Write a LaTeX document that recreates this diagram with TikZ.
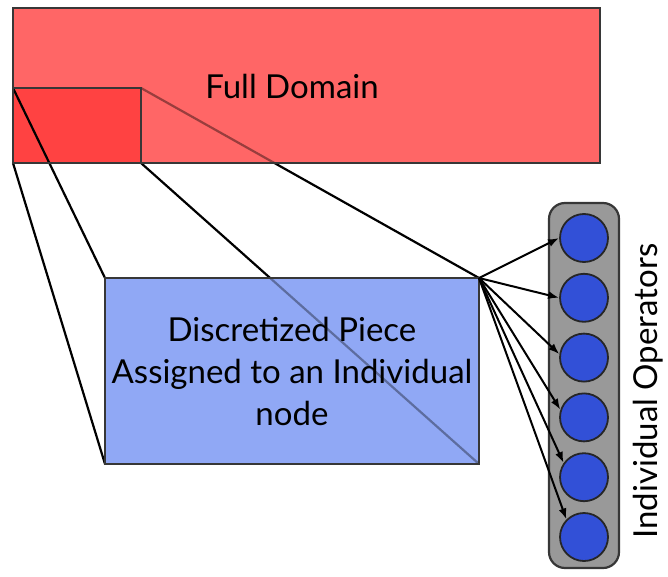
\documentclass[tikz,border=0pt]{standalone}
\usepackage{fontspec}
\setmainfont{Lato}
\usetikzlibrary{arrows.meta}
\definecolor{domred}{RGB}{255,102,102}
\definecolor{piecered}{RGB}{255,66,66}
\definecolor{pieceblue}{RGB}{144,168,245}
\definecolor{opgray}{RGB}{153,153,153}
\definecolor{opblue}{RGB}{50,80,215}
\definecolor{edge}{RGB}{55,55,55}
\begin{document}
\begin{tikzpicture}[x=1pt,y=-1pt,
  box/.style={inner sep=0pt,outer sep=0pt,anchor=north west},
  border/.style={draw=edge,line width=2.2pt},
  link/.style={line width=2.2pt,black},
  op/.style={circle,draw=black!85,line width=1.8pt,fill=opblue,minimum size=48pt,inner sep=0pt},
  feed/.style={line width=2pt,-{Latex[length=11pt,width=8pt]}},
  txt/.style={font=\fontsize{33}{42}\selectfont,align=center}]
\useasboundingbox (0,0) rectangle (668,577);

% domain, the piece cut from it, and the enlarged piece
\node[box,fill=domred,minimum width=587pt,minimum height=155pt] (dom) at (13,8) {};
\node[box,fill=piecered,minimum width=128pt,minimum height=75pt] (piece) at (13,88) {};
\node[box,fill=pieceblue,minimum width=374pt,minimum height=186pt] (blue) at (105,278) {};

% projection lines from the piece to its enlargement
\draw[link] (piece.north west) -- (blue.north west);
\draw[link] (piece.south west) -- (blue.south west);
\draw[link] (piece.north east) -- (blue.north east);
\draw[link] (piece.south east) -- (blue.south east);

% translucent overlays so the lines show faintly through the boxes
\fill[domred,fill opacity=0.6,even odd rule]
  (dom.north west) rectangle (dom.south east)
  (piece.north west) rectangle (piece.south east);
\fill[pieceblue,fill opacity=0.65] (blue.north west) rectangle (blue.south east);

% box outlines
\draw[border] (dom.north west) rectangle (dom.south east);
\draw[border] (piece.north west) rectangle (piece.south east);
\draw[border] (blue.north west) rectangle (blue.south east);

% labels
\node[txt] (domtext) at (292,86) {Full Domain};
\node[txt] (bluetext) at (blue.center) {Discretized Piece\\Assigned to an Individual\\node};

% column of operators
\node[box,border,fill=opgray,rounded corners=16pt,minimum width=70pt,minimum height=365pt] (ops) at (549,203) {};
\foreach \i in {1,...,6}
  \node[op] (c\i) at (584,{238+59.8*(\i-1)}) {};
\node[rotate=90,txt] (oplabel) at (648,391) {Individual Operators};

% fan-out from the piece to each operator
\foreach \t/\a in {1/180,2/180,3/172,4/162,5/145,6/135}
  \draw[feed] (blue.north east) -- (c\t.\a);
\end{tikzpicture}
\end{document}
